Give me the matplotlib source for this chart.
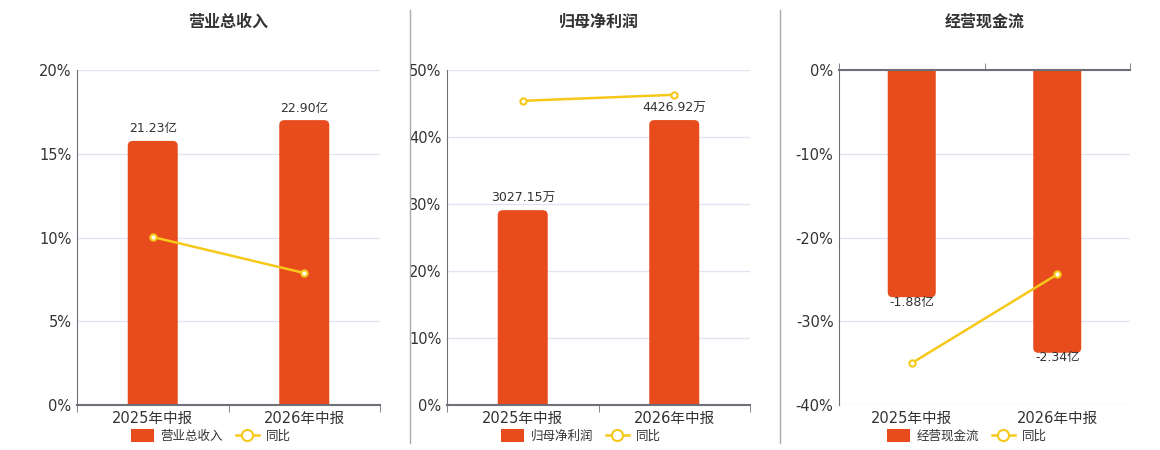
import matplotlib
matplotlib.use("Agg")
import matplotlib.pyplot as plt
from matplotlib.patches import FancyBboxPatch, Patch
from matplotlib.lines import Line2D
from matplotlib.ticker import LinearLocator, FuncFormatter

plt.rcParams['font.family'] = ['DejaVu Sans', 'Noto Sans CJK SC']

categories = ["2025年中报", "2026年中报"]
titles = ["营业总收入", "归母净利润", "经营现金流"]
bar_values = [[21.23, 22.90], [3027.15, 4426.92], [-1.88, -2.34]]
bar_labels = [["21.23亿", "22.90亿"], ["3027.15万", "4426.92万"], ["-1.88亿", "-2.34亿"]]
yoy_values = [[10.03, 7.88], [45.4, 46.3], [-35.0, -24.4]]
pct_limits = [(0, 20), (0, 50), (-40, 0)]
pct_nticks = [5, 6, 5]
bar_limits = [(0, 26.93), (0, 5205), (-2.772, 0)]

BAR = "#E84B1C"
LINE = "#F5C81A"
GRID = "#E0E6F1"
AXIS = "#6E7079"
TXT = "#333333"

fig = plt.figure(figsize=(11.6, 4.5), dpi=100)
W, H = 1160, 450
panels = [(77, 380), (447, 750), (839, 1130)]
top_px, bot_px = 70, 405

for i in range(3):
    l, r = panels[i]
    rect = [l / W, 1 - bot_px / H, (r - l) / W, (bot_px - top_px) / H]
    ax = fig.add_axes(rect)
    ax2 = ax.twinx()
    ax.set_xlim(-0.5, 1.5)
    ax.set_ylim(*bar_limits[i])
    ax2.set_ylim(*pct_limits[i])
    ax.yaxis.set_major_locator(LinearLocator(pct_nticks[i]))
    ax.grid(axis='y', color=GRID, lw=1)
    ax.set_axisbelow(True)
    ax.tick_params(axis='y', left=False, labelleft=False, right=False, labelright=False)
    ax2.yaxis.set_major_locator(LinearLocator(pct_nticks[i]))
    ax2.yaxis.set_major_formatter(FuncFormatter(lambda v, p: f"{v:.0f}%"))
    ax2.yaxis.tick_left()
    ax2.tick_params(axis='y', length=0, labelsize=10.5, labelcolor=TXT, pad=4)
    for a in (ax, ax2):
        for s in a.spines.values():
            s.set_visible(False)
    ax.spines['left'].set_visible(True)
    ax.spines['left'].set_color(AXIS)
    neg = bar_limits[i][0] < 0
    zs = 'top' if neg else 'bottom'
    ax.spines[zs].set_visible(True)
    ax.spines[zs].set_color(AXIS)
    ax.spines[zs].set_linewidth(1.5)

    x = list(range(len(categories)))
    ax.set_xticks(x)
    ax.set_xticklabels(categories)
    ax.tick_params(axis='x', length=0, labelsize=10.5, labelcolor=TXT, pad=4)
    ax.set_xticks([-0.5, 0.5, 1.5], minor=True)
    if neg:
        ax.tick_params(axis='x', which='minor', top=True, bottom=False, direction='out', length=5, color=AXIS)
    else:
        ax.tick_params(axis='x', which='minor', bottom=True, direction='out', length=5, color=AXIS)

    bars = ax.bar(x, bar_values[i], width=0.33, color=BAR, zorder=2)
    # rounded ends
    ax_w = r - l
    ax_h = bot_px - top_px
    yr = bar_limits[i][1] - bar_limits[i][0]
    aspect = (yr / ax_h) / (2.0 / ax_w)
    rad = 5 * 2.0 / ax_w
    for b in bars:
        bx, by, bw, bh = b.get_x(), b.get_y(), b.get_width(), b.get_height()
        ext = rad * aspect
        if bh >= 0:
            y0, hh = by - ext, bh + ext
        else:
            y0, hh = by + bh, -bh + ext
        fp = FancyBboxPatch((bx, y0), bw, hh, boxstyle=f"round,pad=0,rounding_size={rad}",
                            mutation_aspect=aspect, fc=BAR, ec='none', zorder=2, clip_on=True)
        ax.add_patch(fp)
        b.set_visible(False)
    for xi, v, lab in zip(x, bar_values[i], bar_labels[i]):
        if v >= 0:
            ax.annotate(lab, (xi, v), xytext=(0, 4), textcoords='offset points',
                        ha='center', va='bottom', fontsize=9, color=TXT, zorder=5)
        else:
            ax.annotate(lab, (xi, v), xytext=(0, 1), textcoords='offset points',
                        ha='center', va='top', fontsize=9, color=TXT, zorder=5)

    ax2.plot(x, yoy_values[i], color=LINE, lw=1.8, marker='o', ms=4.5,
             mfc='white', mec=LINE, mew=1.5, zorder=4)
    ax2.set_zorder(ax.get_zorder() + 1)
    ax2.patch.set_visible(False)

    cx = (l + r) / 2 / W
    fig.text(cx, 1 - 22 / H, titles[i], ha='center', va='center', fontsize=11.5,
             fontweight='bold', color=TXT, family=['Noto Sans CJK SC', 'DejaVu Sans'])
    handles = [Patch(fc=BAR, ec='none'),
               Line2D([0], [0], color=LINE, lw=1.8, marker='o', ms=8, mfc='white', mec=LINE, mew=1.5)]
    fig.legend(handles, [titles[i], "同比"], loc='center', bbox_to_anchor=(cx - 18 / W, 1 - 436 / H),
               ncol=2, frameon=False, labelcolor=TXT, handlelength=1.9, handleheight=1.2,
               columnspacing=1.0, handletextpad=0.5,
               prop={'family': ['Noto Sans CJK SC', 'DejaVu Sans'], 'size': 9})

for xs in (410, 780):
    fig.add_artist(Line2D([xs / W, xs / W], [1 - 10 / H, 1 - 443 / H], color='#AAAAAA', lw=1))

fig.savefig("out.png", dpi=100)
